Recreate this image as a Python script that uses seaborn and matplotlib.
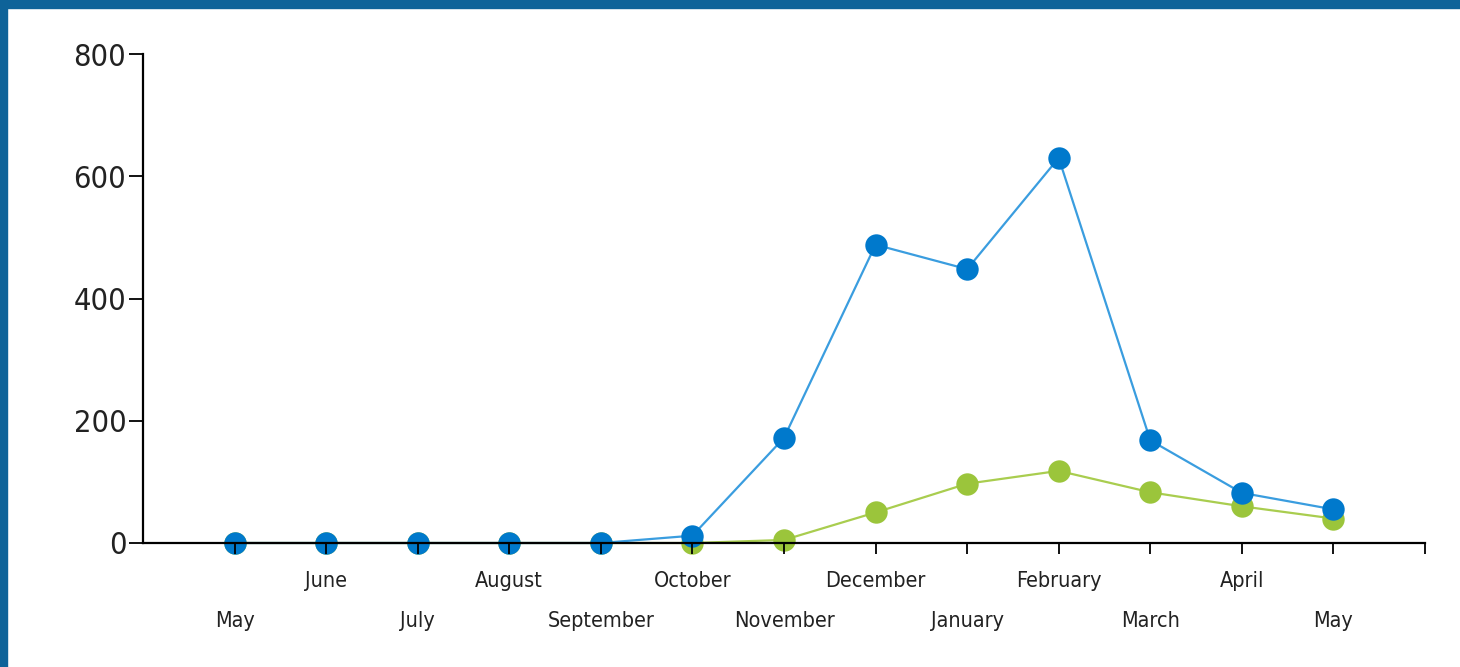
import pandas as pd
import matplotlib
matplotlib.use("Agg")
import matplotlib.pyplot as plt
from matplotlib.patches import Rectangle
import seaborn as sns

# data
months = ["May", "June", "July", "August", "September", "October", "November",
          "December", "January", "February", "March", "April", "May"]
blue_values = [0, 0, 0, 0, 0, 12, 172, 488, 448, 630, 168, 82, 55]
green_values = [0, 0, 0, 0, 0, 0, 5, 50, 97, 118, 83, 60, 40]

blue_line, blue_dot = "#3a9ddf", "#0079cc"
green_line, green_dot = "#a9cd4f", "#9bc53b"
frame_col = "#0e6399"

sns.set_theme(style="white")
plt.rcParams['font.family'] = ['DejaVu Sans']
plt.rcParams['font.stretch'] = 'condensed'

df = pd.DataFrame({
    "pos": list(range(len(months))) * 2,
    "value": green_values + blue_values,
    "series": ["green"] * len(months) + ["blue"] * len(months),
})

fig = plt.figure(figsize=(14.6, 6.67), dpi=100)
ax = fig.add_axes([143 / 1460, (667 - 543) / 667, (1425 - 143) / 1460, (543 - 54) / 667])

# green first so the blue series sits on top
for name, lc, mc in [("green", green_line, green_dot), ("blue", blue_line, blue_dot)]:
    sub = df[df["series"] == name]
    sns.lineplot(data=sub, x="pos", y="value", color=lc, linewidth=1.6, ax=ax,
                 clip_on=False, zorder=3)
    sns.scatterplot(data=sub, x="pos", y="value", color=mc, s=260, linewidth=0,
                    ax=ax, clip_on=False, zorder=4)

ax.set_xlim(-1, len(months))
ax.set_ylim(0, 800)
ax.set_yticks([0, 200, 400, 600, 800])
ax.set_xticks(list(range(len(months) + 1)))
ax.set_xticklabels(months + [""])
ax.set_xlabel("")
ax.set_ylabel("")

for s in ["top", "right"]:
    ax.spines[s].set_visible(False)
for s in ["left", "bottom"]:
    ax.spines[s].set_color("black")
    ax.spines[s].set_linewidth(1.6)
    ax.spines[s].set_zorder(5)
# axis line and ticks show through the dots sitting on zero
ax.xaxis.set_zorder(5)
ax.yaxis.set_zorder(5)

ax.tick_params(axis="x", direction="out", length=8, width=1.3, colors="black",
               labelsize=15.5, labelcolor="#222222", bottom=True)
ax.tick_params(axis="y", direction="out", length=10, width=1.3, colors="black",
               labelsize=22, labelcolor="#222222", left=True, pad=2)

# staggered month labels
for i, tick in enumerate(ax.xaxis.get_major_ticks()):
    tick.set_pad(41 if i % 2 == 0 else 12)

# blue frame along the top and left edges
fig.patches.append(Rectangle((0, 1 - 8 / 667), 1, 8 / 667, transform=fig.transFigure,
                             color=frame_col, zorder=10))
fig.patches.append(Rectangle((0, 0), 7 / 1460, 1, transform=fig.transFigure,
                             color=frame_col, zorder=10))

fig.savefig("out.png", dpi=100, facecolor="white")
